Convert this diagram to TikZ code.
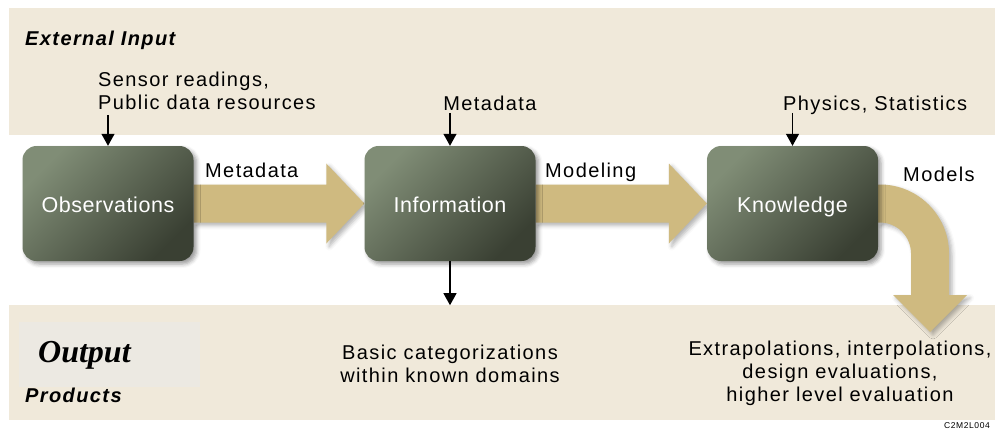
\documentclass[tikz,border=0pt]{standalone}
\usepackage{fontspec}
\setmainfont{Liberation Sans}[LetterSpace=7]
\newfontfamily\boxfont{Liberation Sans}[LetterSpace=2.5]
\newfontfamily\outserif{Liberation Serif}
\usetikzlibrary{arrows.meta}
\usetikzlibrary{shadows.blur}
\usetikzlibrary{positioning}
\definecolor{bandbg}{HTML}{F0E9DA}
\definecolor{outbg}{HTML}{ECE9E2}
\definecolor{fattan}{HTML}{CFBA80}
\definecolor{boxlight}{HTML}{808D76}
\definecolor{boxdark}{HTML}{3A4033}
\pgfdeclarelayer{bg}
\pgfsetlayers{bg,main}
\newcommand{\fatarrow}[2]{%
  \fill[fat] ([yshift=19pt]#1.east) -- ([xshift=-38pt,yshift=19pt]#2.west)
    -- ([xshift=-38pt,yshift=40pt]#2.west) -- (#2.west)
    -- ([xshift=-38pt,yshift=-40pt]#2.west) -- ([xshift=-38pt,yshift=-19pt]#2.west)
    -- ([yshift=-19pt]#1.east) -- cycle;}

\begin{document}
\begin{tikzpicture}[x=1pt,y=-1pt,
    stage/.style={rounded corners=14pt, minimum width=171pt, minimum height=115pt,
        top color=boxlight, bottom color=boxdark, shading angle=45,
        text=white, font=\boxfont\fontsize{21.5}{25}\selectfont,
        text height=22pt, text depth=5pt,
        blur shadow={shadow xshift=3pt, shadow yshift=-3pt, shadow blur radius=4pt, shadow opacity=40}},
    fat/.style={fill=fattan,
        blur shadow={shadow xshift=3pt, shadow yshift=-3pt, shadow blur radius=4pt, shadow opacity=30}},
    lbl/.style={inner sep=0pt, font=\fontsize{20}{23}\selectfont},
    hd/.style={inner sep=0pt, font=\fontsize{20}{23}\selectfont\bfseries\itshape},
    pin/.style={line width=1.2pt, -{Triangle[length=12pt,width=13pt]}}]
  \useasboundingbox (0,0) rectangle (995,432);

  \node[stage] (obs) at (108,203.5) {Observations};
  \node[stage] (info) at (450,203.5) {Information};
  \node[stage] (know) at (792.5,203.5) {Knowledge};

  \node[hd, anchor=base west] (extin) at (25,45) {External Input};
  \node[lbl, anchor=north west, align=left] (sensor) at (98,71.5) {Sensor readings,\\Public data resources};
  \node[lbl, anchor=base] (metain) at (490,110) {Metadata};
  \node[lbl, anchor=base west] (physin) at (783,110) {Physics, Statistics};
  \node[lbl, anchor=base west] (meta) at (205,177.5) {Metadata};
  \node[lbl, anchor=base west] (model) at (545,177.5) {Modeling};
  \node[lbl, anchor=base west] (models) at (903,181.5) {Models};
  \node[inner sep=0pt, anchor=base west, font=\outserif\bfseries\itshape\fontsize{32}{36}\selectfont] (output) at (38,362) {Output};
  \node[hd, anchor=base west] (prod) at (25,402) {Products};
  \node[lbl, anchor=north, align=center] (basic) at (450,344.5) {Basic categorizations\\within known domains};
  \node[lbl, anchor=north, align=center] (extra) at (840,340.5) {Extrapolations, interpolations,\\design evaluations,\\higher level evaluation};
  \node[inner sep=0pt, anchor=base east, font=\fontsize{8.5}{10}\selectfont] (code) at (990,428.5) {C2M2L004};
  \coordinate (modtip) at (930,332);

  \draw[pin] ([yshift=31pt]obs.north) -- (obs.north);
  \draw[pin] ([yshift=33pt]info.north) -- (info.north);
  \draw[pin] ([yshift=33pt]know.north) -- (know.north);
  \draw[pin] (info.south) -- ([yshift=-44pt]info.south);

  \begin{pgfonlayer}{bg}
    \fill[bandbg] (9,8) rectangle (995,135);
    \fill[bandbg] (9,305) rectangle (995,420);
    \fill[outbg] (19,322) rectangle (200,387);
    \fatarrow{obs}{info}
    \fatarrow{info}{know}
    \fill[fat] ([yshift=19pt]know.east) -- (880,184.5) .. controls (918,184.5) and (949,215.4) .. (949,253.5)
      -- (949,295) -- (967,295) -- (modtip) -- (893,295) -- (911,295) -- (911,253.5)
      .. controls (911,236.4) and (897.1,222.5) .. (880,222.5) -- ([yshift=-19pt]know.east) -- cycle;
  \end{pgfonlayer}
\end{tikzpicture}
\end{document}
